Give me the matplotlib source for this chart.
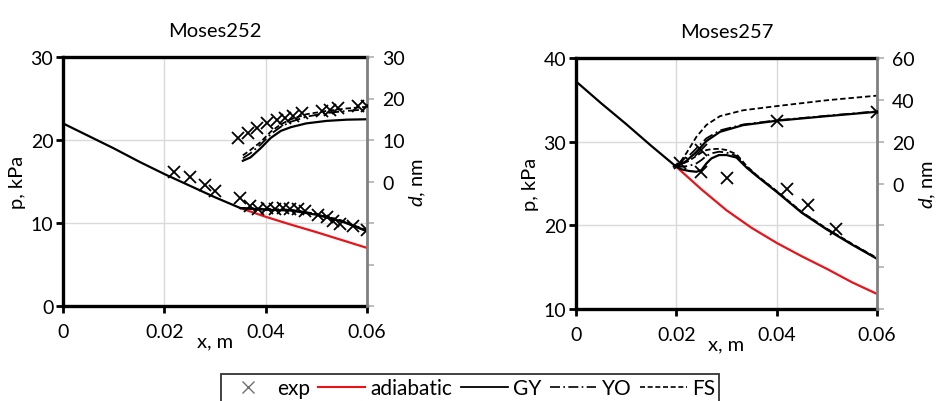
import matplotlib
matplotlib.use("Agg")
import matplotlib.pyplot as plt
from matplotlib.lines import Line2D
from matplotlib.legend_handler import HandlerLine2D

plt.rcParams['font.family'] = ['Lato', 'DejaVu Sans']
plt.rcParams['mathtext.fontset'] = 'custom'
plt.rcParams['mathtext.it'] = 'Lato:italic'
plt.rcParams['mathtext.rm'] = 'Lato'

# ---------------- Moses252 ----------------
x252_base = [0, 0.005, 0.01, 0.015, 0.02, 0.025, 0.03, 0.035]
p252_base = [22.0, 20.5, 19.0, 17.4, 15.9, 14.5, 13.1, 11.8]
x252_tail = [0.035, 0.04, 0.045, 0.05, 0.055, 0.06]
p252_adiab_tail = [11.8, 10.75, 9.8, 8.9, 7.95, 7.0]
p252_gy_tail = [11.8, 11.6, 11.5, 11.0, 10.2, 9.0]
p252_yo_tail = [11.8, 11.65, 11.55, 11.05, 10.25, 9.05]
p252_fs_tail = [11.8, 11.7, 11.6, 11.1, 10.3, 9.1]

x252_d = [0.0355, 0.037, 0.039, 0.041, 0.043, 0.045, 0.048, 0.052, 0.056, 0.06]
d252_gy = [5.0, 5.8, 8.0, 10.5, 12.2, 13.1, 14.0, 14.6, 14.9, 15.0]
d252_yo = [5.6, 6.8, 8.9, 11.4, 13.2, 14.4, 15.6, 16.5, 17.0, 17.4]
d252_fs = [6.3, 7.6, 9.5, 12.0, 13.8, 15.0, 16.2, 17.0, 17.6, 18.0]

x252_exp_p = [0.022, 0.025, 0.028, 0.030, 0.035, 0.037, 0.0385, 0.0403, 0.0418,
              0.0434, 0.0448, 0.0464, 0.0478, 0.0503, 0.0521, 0.0533, 0.0547,
              0.0572, 0.060]
p252_exp = [16.1, 15.6, 14.6, 13.9, 13.0, 12.1, 11.7, 11.8, 11.7,
            11.8, 11.7, 11.7, 11.4, 11.0, 10.7, 10.2, 9.9, 9.6, 9.1]
x252_exp_d = [0.0346, 0.0366, 0.0383, 0.0403, 0.0422, 0.0438, 0.0454, 0.0471,
              0.0511, 0.0527, 0.0543, 0.0583, 0.060]
d252_exp = [10.6, 11.8, 13.0, 14.0, 14.7, 15.4, 15.9, 16.4, 17.1, 17.3, 17.8,
            18.1, 18.3]

# ---------------- Moses257 ----------------
x257_base = [0, 0.005, 0.01, 0.015, 0.02]
p257_base = [37.2, 34.6, 32.1, 29.5, 27.0]
x257_adiab = [0.02, 0.025, 0.03, 0.035, 0.04, 0.045, 0.05, 0.055, 0.06]
p257_adiab = [27.0, 24.3, 21.8, 19.7, 17.9, 16.3, 14.8, 13.2, 11.8]
x257_tail = [0.02, 0.021, 0.0225, 0.024, 0.025, 0.026, 0.027, 0.0285, 0.03,
             0.032, 0.034, 0.036, 0.04, 0.045, 0.05, 0.055, 0.06]
p257_gy = [27.0, 26.7, 26.5, 26.4, 26.6, 27.4, 28.0, 28.4, 28.4,
           28.1, 26.9, 25.9, 24.0, 21.5, 19.5, 17.7, 16.0]
p257_yo = [27.0, 27.0, 27.1, 27.4, 27.8, 28.3, 28.6, 28.8, 28.7,
           28.3, 27.0, 25.95, 24.05, 21.55, 19.55, 17.75, 16.05]
p257_fs = [27.0, 27.3, 27.7, 28.3, 28.7, 29.0, 29.1, 29.15, 29.0,
           28.5, 27.1, 26.0, 24.1, 21.6, 19.6, 17.8, 16.1]

x257_d = [0.0195, 0.021, 0.022, 0.024, 0.026, 0.0287, 0.0333, 0.04, 0.05, 0.06]
d257_gy = [8.1, 9.3, 10.8, 15.1, 20.3, 24.7, 27.9, 30.0, 32.2, 34.3]
d257_yo = [8.1, 10.2, 12.0, 16.8, 21.6, 25.4, 28.2, 30.2, 32.4, 34.5]
d257_fs = [8.1, 11.0, 14.5, 22.3, 28.0, 32.2, 35.0, 37.0, 39.8, 42.0]

x257_exp_p = [0.025, 0.030, 0.042, 0.0463, 0.0519]
p257_exp = [26.4, 25.6, 24.4, 22.4, 19.6]
x257_exp_d = [0.0207, 0.025, 0.040, 0.060]
d257_exp = [10.0, 15.9, 29.7, 34.4]

titles = ["Moses252", "Moses257"]
legend_labels = ["exp", "adiabatic", "GY", "YO", "FS"]

fig = plt.figure(figsize=(9.37, 4.02), dpi=100)

W, H = 937, 402
def axrect(x0, x1, ytop, ybot):
    return [x0 / W, 1 - ybot / H, (x1 - x0) / W, (ybot - ytop) / H]

ax1 = fig.add_axes(axrect(63, 367, 58, 307))
ax2 = fig.add_axes(axrect(576, 877, 59, 310))

GREY = '#808080'
mk = dict(marker='x', linestyle='none', color='black', markersize=9,
          markeredgewidth=1.3, zorder=5)
lw = 1.6
ls_yo = (0, (6, 2, 1, 2))
ls_fs = (0, (3, 1.6))
FS_TICK = 14
FS_LAB = 14.5


def style(ax, ylim, yticks, axr, rlim, rticks, rlabels, title):
    ax.set_xlim(0, 0.06)
    ax.set_ylim(*ylim)
    ax.set_xticks([0, 0.02, 0.04, 0.06])
    ax.set_xticklabels(["0", "0.02", "0.04", "0.06"])
    ax.set_yticks(yticks)
    ax.grid(True, color='#d9d9d9', linewidth=1.0)
    ax.set_axisbelow(True)
    for s in ['left', 'bottom', 'top']:
        ax.spines[s].set_linewidth(2.4)
        ax.spines[s].set_color('black')
    ax.spines['right'].set_visible(False)
    ax.tick_params(axis='both', direction='out', length=5, width=2.0,
                   labelsize=FS_TICK, colors='black', pad=2)
    ax.tick_params(axis='x', pad=7)
    ax.set_xlabel("x, m", fontsize=FS_LAB, labelpad=-5)
    ax.set_ylabel("p, kPa", fontsize=FS_LAB, labelpad=3)
    ax.set_title(title, fontsize=14.5, pad=15)
    axr.set_ylim(*rlim)
    axr.set_yticks(rticks)
    axr.set_yticklabels(rlabels)
    for s in ['left', 'bottom', 'top']:
        axr.spines[s].set_visible(False)
    axr.spines['right'].set_color(GREY)
    axr.spines['right'].set_linewidth(2.0)
    axr.tick_params(axis='y', direction='out', length=5, width=1.2,
                    color='#b0b0b0', labelsize=FS_TICK, labelcolor='black', pad=6)
    axr.set_ylabel(r"$d$, nm", fontsize=FS_LAB, labelpad=2)


# ---- left panel ----
ax1r = ax1.twinx()
ax1.plot(x252_base, p252_base, color='black', lw=lw, zorder=3)
ax1.plot(x252_tail, p252_adiab_tail, color='#e8141a', lw=lw, zorder=2)
ax1.plot(x252_tail, p252_fs_tail, color='black', lw=1.3, ls=ls_fs, zorder=3)
ax1.plot(x252_tail, p252_yo_tail, color='black', lw=1.3, ls=ls_yo, zorder=3)
ax1.plot(x252_tail, p252_gy_tail, color='black', lw=lw, zorder=3)
ax1.plot(x252_exp_p, p252_exp, **mk)
ax1r.plot(x252_d, d252_gy, color='black', lw=lw)
ax1r.plot(x252_d, d252_yo, color='black', lw=1.3, ls=ls_yo)
ax1r.plot(x252_d, d252_fs, color='black', lw=1.3, ls=ls_fs)
ax1r.plot(x252_exp_d, d252_exp, **mk)
style(ax1, (0, 30), [0, 10, 20, 30], ax1r, (-30, 30),
      [-30, -20, -10, 0, 10, 20, 30], ["", "", "", "0", "10", "20", "30"],
      titles[0])

# ---- right panel ----
ax2r = ax2.twinx()
ax2.plot(x257_base, p257_base, color='black', lw=lw, zorder=3)
ax2.plot(x257_adiab, p257_adiab, color='#e8141a', lw=lw, zorder=2)
ax2.plot(x257_tail, p257_fs, color='black', lw=1.3, ls=ls_fs, zorder=3)
ax2.plot(x257_tail, p257_yo, color='black', lw=1.3, ls=ls_yo, zorder=3)
ax2.plot(x257_tail, p257_gy, color='black', lw=lw, zorder=3)
ax2.plot(x257_exp_p, p257_exp, **mk)
ax2r.plot(x257_d, d257_gy, color='black', lw=lw)
ax2r.plot(x257_d, d257_yo, color='black', lw=1.3, ls=ls_yo)
ax2r.plot(x257_d, d257_fs, color='black', lw=1.3, ls=ls_fs)
ax2r.plot(x257_exp_d, d257_exp, **mk)
style(ax2, (10, 40), [10, 20, 30, 40], ax2r, (-60, 60),
      [-60, -40, -20, 0, 20, 40, 60], ["", "", "", "0", "20", "40", "60"],
      titles[1])


# ---- legend ----
class RightMarker(HandlerLine2D):
    """Place the single marker near the right end of the handle box."""
    def get_xdata(self, legend, xdescent, ydescent, width, height, fontsize):
        xdata, _ = super().get_xdata(legend, xdescent, ydescent, width,
                                     height, fontsize)
        return xdata, [-xdescent + width - 0.35 * fontsize]


handles = [
    Line2D([], [], marker='x', ls='none', color='#707070', markersize=8,
           markeredgewidth=1.0),
    Line2D([], [], color='#e8141a', lw=1.5),
    Line2D([], [], color='black', lw=1.3),
    Line2D([], [], color='black', lw=1.2, ls=ls_yo),
    Line2D([], [], color='black', lw=1.2, ls=ls_fs),
]
leg = fig.legend(handles, legend_labels, loc='upper center',
                 bbox_to_anchor=(470 / W, 1 - 375 / H), ncol=5,
                 fontsize=15, frameon=True, fancybox=False, edgecolor='black',
                 handlelength=2.25, handletextpad=0.25, columnspacing=0.4,
                 borderpad=0.2, borderaxespad=0,
                 handler_map={handles[0]: RightMarker()})
leg.get_frame().set_linewidth(1.3)

fig.savefig("out.png", dpi=100)
